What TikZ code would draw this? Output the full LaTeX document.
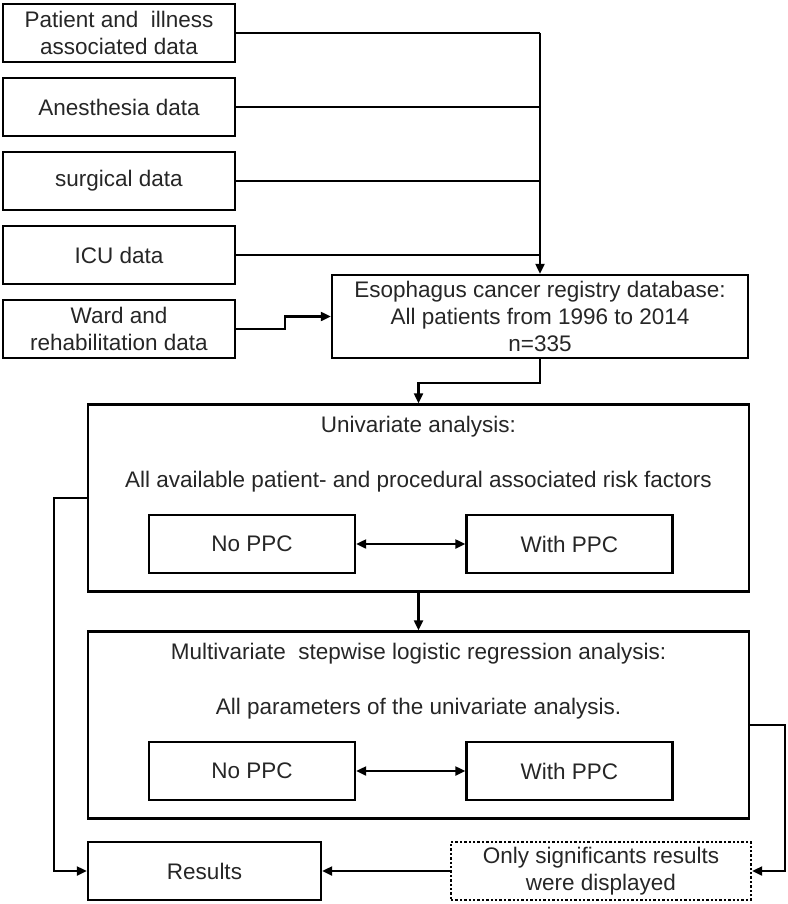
\documentclass[tikz,border=0pt]{standalone}
\usepackage{fontspec}
\setmainfont{Liberation Sans}
\usepackage{xcolor}
\usepackage{tikz}
\usetikzlibrary{arrows.meta,calc}
\tikzstyle{box}=[draw, line width=2.4pt, text=black!85, text centered, align=center,
  inner sep=2pt, font=\fontsize{22.5}{27}\selectfont]
\tikzstyle{source}=[box, minimum width=232pt, minimum height=58pt]
\tikzstyle{registry}=[box, minimum width=416pt, minimum height=83pt]
\tikzstyle{analysis}=[box, minimum width=661pt, minimum height=187pt]
\tikzstyle{ppc}=[box, minimum width=206pt, minimum height=58pt]
\tikzstyle{heading}=[text=black!85, inner sep=0pt, font=\fontsize{22.5}{27}\selectfont]
\tikzstyle{link}=[line width=2.2pt, >={Triangle[length=10pt,width=9pt]}]

\begin{document}
\begin{tikzpicture}[x=1pt, y=1pt]
  \useasboundingbox (-119,33) rectangle (668,-871);

  \node(patient)[source]{Patient and \ illness\\associated data};
  \path(patient)+(0,-74) node(anesth)[source]{Anesthesia data};
  \path(anesth)+(0,-74) node(surgical)[source]{surgical data};
  \path(surgical)+(0,-74) node(icu)[source]{ICU data};
  \path(icu)+(0,-74) node(ward)[source]{Ward and\\rehabilitation data};

  \path(ward)+(421,12.5) node(db)[registry]{Esophagus cancer registry database:\\
    All patients from 1996 to 2014\\n=335};
  \coordinate (join) at (db.north |- patient.east);
  \draw[link] (patient.east) -- (join);
  \draw[link] (anesth.east) -- (anesth.east -| join);
  \draw[link] (surgical.east) -- (surgical.east -| join);
  \draw[link] (icu.east) -- (icu.east -| join);
  \draw[link,->] (join) -- (db.north);
  \draw[link,->] (ward.east) -- ++(49,0) |- (db.west);

  % univariate block
  \path(db)+(-121.5,-181.5) node(univ)[analysis]{};
  \path(univ.north)+(0,-23) node(univhead)[heading]{Univariate analysis:};
  \path(univ.north)+(0,-78) node(univtext)[heading]{All available patient- and procedural associated risk factors};
  \path(univ)+(-166.5,-46) node(noppc1)[ppc]{No PPC};
  \path(univ)+(151,-46) node(withppc1)[ppc]{With PPC};
  \draw[link,<->] (noppc1.east) -- (withppc1.west);
  \draw[link,->] (db.south) -- ++(0,-24) -| (univ.north);

  % multivariate block
  \path(univ)+(0,-227) node(multi)[analysis]{};
  \path(multi.north)+(0,-23) node(multihead)[heading]{Multivariate \ stepwise logistic regression analysis:};
  \path(multi.north)+(0,-78) node(multitext)[heading]{All parameters of the univariate analysis.};
  \path(multi)+(-166.5,-46) node(noppc2)[ppc]{No PPC};
  \path(multi)+(151,-46) node(withppc2)[ppc]{With PPC};
  \draw[link,<->] (noppc2.east) -- (withppc2.west);
  \draw[link,->] (univ.south) -- (multi.north);

  % results
  \path(multi)+(-214,-146) node(results)[box, minimum width=233pt, minimum height=58pt]{Results};
  \path(results)+(396.5,0) node(signif)[box, dotted, minimum width=300pt, minimum height=58pt]{Only significants results\\were displayed};
  \draw[link,->] (univ.west) -- ++(-33,0) |- (results.west);
  \draw[link,->] (multi.east) -- ++(35,0) |- (signif.east);
  \draw[link,->] (signif.west) -- (results.east);
\end{tikzpicture}
\end{document}
